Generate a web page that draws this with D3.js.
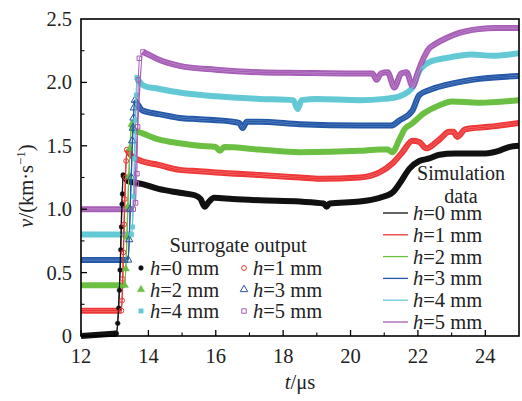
<!DOCTYPE html>
<html><head><meta charset="utf-8">
<script src="https://cdn.jsdelivr.net/npm/d3@7"></script>
<style>body{margin:0;background:#fff}</style>
</head><body>
<svg id="chart" width="522" height="401"></svg>
<script>
// Axis ticks
const tTicks = [12, 14, 16, 18, 20, 22, 24];
const tMinor = [13, 15, 17, 19, 21, 23, 25];
const vTicks = [0, 0.5, 1.0, 1.5, 2.0, 2.5];
const vMinor = [0.25, 0.75, 1.25, 1.75, 2.25];

// Series: impact depth h (mm)
const hValues = [0, 1, 2, 3, 4, 5];
const colors = ["#111111", "#ee3636", "#6bbf43", "#2357a7", "#63c9d4", "#a65db6"];
const markerShape = ["circle", "circle", "triangle", "triangle", "square", "square"];
const markerFilled = [true, false, true, false, true, false];

// Simulation data: [t (µs), v (km/s)]
const sim0 = [[12,0],[13.05,0],[13.15,0.45],[13.25,1.27],[13.4,1.22],[13.8,1.2],[14.3,1.16],[14.93,1.13],[15.38,1.11],[15.55,1.08],[15.67,1.02],[15.8,1.06],[15.95,1.09],[16.5,1.08],[17.3,1.07],[18.5,1.06],[19.2,1.045],[19.29,1.02],[19.38,1.045],[20.27,1.06],[20.86,1.09],[21.24,1.13],[21.45,1.2],[21.75,1.32],[22.04,1.38],[22.34,1.4],[22.64,1.43],[23.08,1.44],[24.0,1.44],[24.4,1.46],[24.7,1.49],[25,1.5]];
const sim1 = [[12,0.2],[13.2,0.2],[13.28,0.88],[13.36,1.47],[13.5,1.42],[13.8,1.38],[14.3,1.35],[14.93,1.31],[15.5,1.3],[16,1.29],[17.3,1.27],[18.5,1.25],[19.1,1.24],[20.27,1.25],[20.86,1.29],[21.24,1.36],[21.54,1.45],[21.84,1.54],[22.04,1.53],[22.25,1.48],[22.64,1.55],[22.93,1.61],[23.05,1.61],[23.17,1.57],[23.4,1.63],[24.12,1.65],[25,1.68]];
const sim2 = [[12,0.4],[13.3,0.4],[13.42,1.26],[13.5,1.67],[13.6,1.62],[13.81,1.6],[14.3,1.55],[14.93,1.52],[15.5,1.5],[16.0,1.49],[16.12,1.46],[16.25,1.49],[17.3,1.47],[18.5,1.45],[20.27,1.46],[20.86,1.47],[21.1,1.47],[21.24,1.45],[21.45,1.55],[21.6,1.63],[21.8,1.67],[22.2,1.76],[22.64,1.82],[23.0,1.85],[23.8,1.84],[25,1.86]];
const sim3 = [[12,0.6],[13.4,0.6],[13.49,1.25],[13.6,1.86],[13.7,1.82],[13.81,1.78],[14.3,1.75],[14.93,1.72],[15.5,1.71],[16.5,1.69],[16.7,1.68],[16.8,1.64],[16.92,1.69],[17.3,1.69],[18.5,1.67],[20.27,1.66],[21.2,1.66],[21.45,1.7],[21.84,1.78],[22.04,1.9],[22.34,1.94],[22.84,1.98],[23.6,2.02],[25,2.05]];
const sim4 = [[12,0.8],[13.5,0.8],[13.59,1.4],[13.66,2.04],[13.75,2.0],[13.9,1.97],[14.3,1.95],[14.93,1.92],[16.0,1.89],[17.3,1.87],[18.3,1.86],[18.43,1.79],[18.55,1.86],[19.0,1.87],[20.27,1.86],[21.0,1.87],[21.45,1.89],[21.84,1.96],[22.04,2.09],[22.34,2.16],[22.8,2.19],[23.6,2.22],[24.2,2.21],[25,2.23]];
const sim5 = [[12,1.0],[13.55,1.0],[13.68,1.65],[13.84,2.24],[14.0,2.22],[14.3,2.18],[14.93,2.13],[16.0,2.1],[17.3,2.08],[18.5,2.075],[20.27,2.07],[20.65,2.07],[20.77,2.02],[20.9,2.07],[21.1,2.08],[21.3,1.96],[21.5,2.07],[21.66,2.08],[21.84,1.97],[22.0,2.08],[22.1,2.15],[22.34,2.27],[22.5,2.3],[22.85,2.35],[23.23,2.39],[23.8,2.42],[24.3,2.43],[25,2.43]];

// Surrogate output samples across the velocity jump: [t (µs), v (km/s)]
const sur0 = [[13.05,0.02],[13.09,0.1],[13.12,0.22],[13.14,0.36],[13.16,0.52],[13.18,0.68],[13.2,0.86],[13.22,1.04],[13.23,1.12],[13.25,1.27]];
const sur1 = [[13.2,0.2],[13.22,0.28],[13.24,0.45],[13.26,0.66],[13.28,0.88],[13.3,1.08],[13.32,1.25],[13.34,1.38],[13.36,1.47]];
const sur2 = [[13.3,0.4],[13.33,0.53],[13.36,0.78],[13.39,1.02],[13.42,1.26],[13.45,1.48],[13.5,1.67]];
const sur3 = [[13.4,0.6],[13.43,0.76],[13.46,1.0],[13.49,1.25],[13.52,1.54],[13.54,1.64],[13.56,1.72],[13.57,1.8],[13.6,1.86]];
const sur4 = [[13.5,0.8],[13.53,0.86],[13.56,1.1],[13.59,1.4],[13.62,1.7],[13.64,1.9],[13.66,2.04]];
const sur5 = [[13.55,1.0],[13.62,1.05],[13.64,1.2],[13.66,1.28],[13.68,1.65],[13.7,2.02],[13.73,2.19],[13.84,2.24]];

const simSeries = [sim0, sim1, sim2, sim3, sim4, sim5];
const surSeries = [sur0, sur1, sur2, sur3, sur4, sur5];

const svg = d3.select("#chart");
const W = 522, H = 401;
const m = {left: 81, right: 519, top: 19, bottom: 336};
const x = d3.scaleLinear().domain([12, 25]).range([m.left, m.right]);
const y = d3.scaleLinear().domain([0, 2.5]).range([m.bottom, m.top]);
const FS = 20.5;
const SERIF = "Liberation Serif";
const TXT = "#222";

svg.append("defs").append("clipPath").attr("id", "plotclip")
  .append("rect").attr("x", m.left).attr("y", 0).attr("width", m.right - m.left).attr("height", H);

const line = d3.line().x(d => x(d[0])).y(d => y(d[1])).curve(d3.curveMonotoneX);
const lineLin = d3.line().x(d => x(d[0])).y(d => y(d[1]));

function lighten(c, k) { return d3.interpolateRgb(c, "#ffffff")(k); }
function symbolOf(i) {
  const type = markerShape[i] === "circle" ? d3.symbolCircle : markerShape[i] === "triangle" ? d3.symbolTriangle : d3.symbolSquare;
  const size = markerShape[i] === "circle" ? 18 : markerShape[i] === "triangle" ? 24 : 20;
  return d3.symbol().type(type).size(size)();
}
function styleMarker(sel, i) {
  sel.attr("d", symbolOf(i))
    .attr("fill", markerFilled[i] ? colors[i] : "none")
    .attr("stroke", colors[i])
    .attr("stroke-width", markerFilled[i] ? 0.4 : 1);
}
function addText(parent, xPos, yPos, anchor, size) {
  return parent.append("text").attr("x", xPos).attr("y", yPos).attr("text-anchor", anchor || "start")
    .attr("font-family", SERIF).attr("font-size", size || FS).attr("fill", TXT);
}

const plot = svg.append("g").attr("clip-path", "url(#plotclip)");

// Dense surrogate samples form a band along the steady portions
hValues.forEach((h, i) => {
  const sim = simSeries[i], sur = surSeries[i];
  const t0 = sur[0][0], t1 = sur[sur.length - 1][0];
  const pre = sim.filter(d => d[0] < t0).concat([sur[0]]);
  const post = [sur[sur.length - 1]].concat(sim.filter(d => d[0] > t1));
  [pre, post].forEach(seg => {
    plot.append("path").attr("d", line(seg)).attr("fill", "none")
      .attr("stroke", colors[i]).attr("stroke-width", 6).attr("stroke-linejoin", "round");
    if (!markerFilled[i]) {
      plot.append("path").attr("d", line(seg)).attr("fill", "none")
        .attr("stroke", lighten(colors[i], 0.35)).attr("stroke-width", 2.2).attr("stroke-linejoin", "round");
    }
  });
});

// Simulation curves
hValues.forEach((h, i) => {
  plot.append("path").attr("d", line(simSeries[i])).attr("fill", "none")
    .attr("stroke", colors[i]).attr("stroke-width", 1.3);
});

// Surrogate samples across the jump
hValues.forEach((h, i) => {
  plot.append("path").attr("d", lineLin(surSeries[i])).attr("fill", "none")
    .attr("stroke", colors[i]).attr("stroke-width", 1);
  plot.selectAll(null).data(surSeries[i]).enter().append("path")
    .attr("transform", d => `translate(${x(d[0])},${y(d[1])})`)
    .call(styleMarker, i);
});

// Frame and ticks
const ax = svg.append("g");
ax.append("rect").attr("x", m.left).attr("y", m.top).attr("width", m.right - m.left).attr("height", m.bottom - m.top)
  .attr("fill", "none").attr("stroke", "#000").attr("stroke-width", 1.6);

ax.selectAll(null).data(tTicks).enter().append("line")
  .attr("x1", d => x(d)).attr("x2", d => x(d)).attr("y1", m.bottom).attr("y2", m.bottom - 6)
  .attr("stroke", "#000").attr("stroke-width", 1.3);
ax.selectAll(null).data(tMinor.filter(d => d < 25)).enter().append("line")
  .attr("x1", d => x(d)).attr("x2", d => x(d)).attr("y1", m.bottom).attr("y2", m.bottom - 3.5)
  .attr("stroke", "#000").attr("stroke-width", 1.1);
ax.selectAll(null).data(vTicks.filter(d => d > 0 && d < 2.5)).enter().append("line")
  .attr("x1", m.left).attr("x2", m.left + 6).attr("y1", d => y(d)).attr("y2", d => y(d))
  .attr("stroke", "#000").attr("stroke-width", 1.3);
ax.selectAll(null).data(vMinor).enter().append("line")
  .attr("x1", m.left).attr("x2", m.left + 3.5).attr("y1", d => y(d)).attr("y2", d => y(d))
  .attr("stroke", "#000").attr("stroke-width", 1.1);

tTicks.forEach(d => addText(ax, x(d), 363, "middle").text(d));
vTicks.forEach(d => addText(ax, 72, y(d) + 7, "end").text(d === 0 ? "0" : d.toFixed(1)));

// Axis titles
const xl = addText(svg, 300, 389, "middle");
xl.append("tspan").attr("font-style", "italic").text("t");
xl.append("tspan").text("/μs");

const yl = svg.append("text").attr("transform", "translate(33,186) rotate(-90)")
  .attr("text-anchor", "middle").attr("font-family", SERIF).attr("font-size", FS).attr("fill", TXT);
yl.append("tspan").attr("font-style", "italic").text("v");
yl.append("tspan").text("/(km·s");
yl.append("tspan").attr("font-size", 13).attr("dy", -8).text("−1");
yl.append("tspan").attr("dy", 8).text(")");

// Legend: surrogate output
const lg1 = svg.append("g");
addText(lg1, 238, 252, "middle").text("Surrogate output");
hValues.forEach((h, i) => {
  const col = i % 2, row = Math.floor(i / 2);
  const mx = col === 0 ? 141 : 244, my = 268 + row * 21.5;
  lg1.append("path").attr("transform", `translate(${mx},${my})`).call(styleMarker, i);
  const tx = addText(lg1, mx + 9, my + 7);
  tx.append("tspan").attr("font-style", "italic").text("h");
  tx.append("tspan").text("=" + h + " mm");
});

// Legend: simulation data
const lg2 = svg.append("g");
addText(lg2, 461, 180, "middle", 20).text("Simulation");
addText(lg2, 461, 203, "middle", 20).text("data");
hValues.forEach((h, i) => {
  const ly = 213 + i * 21.8;
  lg2.append("line").attr("x1", 383).attr("x2", 408).attr("y1", ly).attr("y2", ly)
    .attr("stroke", colors[i]).attr("stroke-width", 1.3);
  const tx = addText(lg2, 413, ly + 7);
  tx.append("tspan").attr("font-style", "italic").text("h");
  tx.append("tspan").text("=" + h + " mm");
});
</script>
</body></html>
